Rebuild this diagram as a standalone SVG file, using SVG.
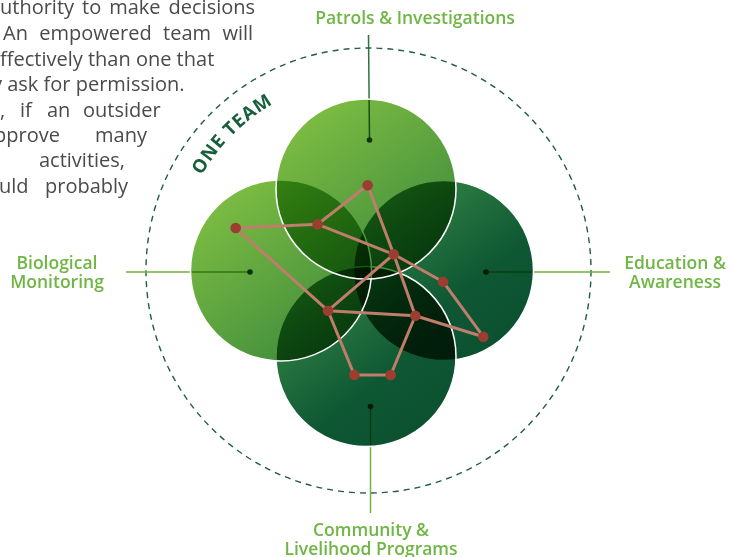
<svg xmlns="http://www.w3.org/2000/svg" width="733" height="557" viewBox="0 0 733 557">
<defs>
<style>
.body{font-family:"Open Sans","Liberation Sans",sans-serif;font-size:20px;fill:#4a4a4a}
.lbl{font-family:"Open Sans","Liberation Sans",sans-serif;font-size:17.5px;font-weight:600;fill:#6fb644;text-anchor:middle}
.fl{fill:url(#gl);mix-blend-mode:multiply}
.fd{fill:url(#gd);mix-blend-mode:multiply}
.rim{fill:none;stroke:#ffffff;stroke-width:1.5}
.edge{stroke:#bf7d6b;stroke-width:3;stroke-linecap:round}
.nd{fill:#9c3d31}
.con{stroke:#6db33f;stroke-width:1.5}
.dot{fill:#1b4d2a}
</style>
<linearGradient id="gl" x1="0.2" y1="0.1" x2="0.85" y2="0.95">
<stop offset="0" stop-color="#7bbb42"/>
<stop offset="1" stop-color="#3c893c"/>
</linearGradient>
<linearGradient id="gd" x1="0.2" y1="0.1" x2="0.85" y2="0.95">
<stop offset="0" stop-color="#348545"/>
<stop offset="0.6" stop-color="#0f5834"/>
<stop offset="1" stop-color="#0b5030"/>
</linearGradient>
<path id="arc" d="M176.5 270.5 A192 192 0 0 1 368.5 78.5"/>
</defs>
<rect width="733" height="557" fill="#ffffff"/>
<g id="body-text" class="body">
<text x="0" y="14" word-spacing="2.8">uthority to make decisions</text>
<text x="3" y="40" word-spacing="6.2">An empowered team will</text>
<text x="0" y="66">ffectively than one that</text>
<text x="-8" y="91">y ask for permission.</text>
<text y="117"><tspan x="0">,</tspan><tspan x="20">if</tspan><tspan x="47">an</tspan><tspan x="83">outsider</tspan></text>
<text y="142"><tspan x="-6">pprove</tspan><tspan x="95">many</tspan></text>
<text y="167"><tspan x="39">activities,</tspan></text>
<text y="193"><tspan x="-1">uld</tspan><tspan x="45">probably</tspan></text>
</g>
<g id="one-team">
<circle cx="368.5" cy="270.5" r="222.5" fill="none" stroke="#1f5e3f" stroke-width="1.4" stroke-dasharray="6 5"/>
<text font-family="Open Sans, Liberation Sans, sans-serif" font-size="18.5" font-weight="700" fill="#17603a" letter-spacing="0.8" text-anchor="middle"><textPath href="#arc" startOffset="50%">ONE TEAM</textPath></text>
</g>
<g id="connectors">
<line class="con" x1="368.5" y1="35" x2="369.5" y2="140" style="stroke:#2b7344"/>
<line class="con" x1="126" y1="272" x2="250" y2="272"/>
<line class="con" x1="486" y1="272" x2="610" y2="272"/>
<line class="con" x1="370.5" y1="406.5" x2="370.5" y2="513"/>
<circle class="dot" cx="369.5" cy="140" r="2.8"/>
<circle class="dot" cx="250" cy="272" r="2.8"/>
<circle class="dot" cx="486" cy="272" r="2.8"/>
<circle class="dot" cx="370.5" cy="406.5" r="2.8"/>
</g>
<g id="education">
<circle class="fd" cx="443.5" cy="270.5" r="90"/>
<circle class="rim" cx="443.5" cy="270.5" r="90"/>
<text class="lbl" x="675" y="269">Education &amp;</text>
<text class="lbl" x="675" y="288">Awareness</text>
</g>
<g id="community">
<circle class="fd" cx="366" cy="356.5" r="90"/>
<circle class="rim" cx="366" cy="356.5" r="90"/>
<text class="lbl" x="371" y="536">Community &amp;</text>
<text class="lbl" x="371" y="555">Livelihood Programs</text>
</g>
<g id="biological">
<circle class="fl" cx="281" cy="270.5" r="90.5"/>
<circle class="rim" cx="281" cy="270.5" r="90.5"/>
<text class="lbl" x="57" y="269">Biological</text>
<text class="lbl" x="57" y="288">Monitoring</text>
</g>
<g id="patrols">
<circle class="fl" cx="366" cy="189" r="90"/>
<circle class="rim" cx="366" cy="189" r="90"/>
<text class="lbl" x="415" y="24">Patrols &amp; Investigations</text>
</g>
<g id="network">
<line class="edge" x1="235.7" y1="228" x2="317.7" y2="224.3"/>
<line class="edge" x1="317.7" y1="224.3" x2="367.7" y2="185.3"/>
<line class="edge" x1="367.7" y1="185.3" x2="393.7" y2="254.3"/>
<line class="edge" x1="317.7" y1="224.3" x2="393.7" y2="254.3"/>
<line class="edge" x1="393.7" y1="254.3" x2="443" y2="281.7"/>
<line class="edge" x1="443" y1="281.7" x2="483.3" y2="336.7"/>
<line class="edge" x1="483.3" y1="336.7" x2="415.3" y2="315.7"/>
<line class="edge" x1="393.7" y1="254.3" x2="415.3" y2="315.7"/>
<line class="edge" x1="415.3" y1="315.7" x2="328" y2="310.7"/>
<line class="edge" x1="328" y1="310.7" x2="235.7" y2="228"/>
<line class="edge" x1="328" y1="310.7" x2="393.7" y2="254.3"/>
<line class="edge" x1="328" y1="310.7" x2="354.3" y2="375"/>
<line class="edge" x1="354.3" y1="375" x2="390.7" y2="375"/>
<line class="edge" x1="390.7" y1="375" x2="415.3" y2="315.7"/>
<circle class="nd" cx="235.7" cy="228" r="5.3"/>
<circle class="nd" cx="317.7" cy="224.3" r="5.3"/>
<circle class="nd" cx="367.7" cy="185.3" r="5.3"/>
<circle class="nd" cx="393.7" cy="254.3" r="5.3"/>
<circle class="nd" cx="443" cy="281.7" r="5.3"/>
<circle class="nd" cx="483.3" cy="336.7" r="5.3"/>
<circle class="nd" cx="415.3" cy="315.7" r="5.3"/>
<circle class="nd" cx="328" cy="310.7" r="5.3"/>
<circle class="nd" cx="354.3" cy="375" r="5.3"/>
<circle class="nd" cx="390.7" cy="375" r="5.3"/>
</g>
</svg>
